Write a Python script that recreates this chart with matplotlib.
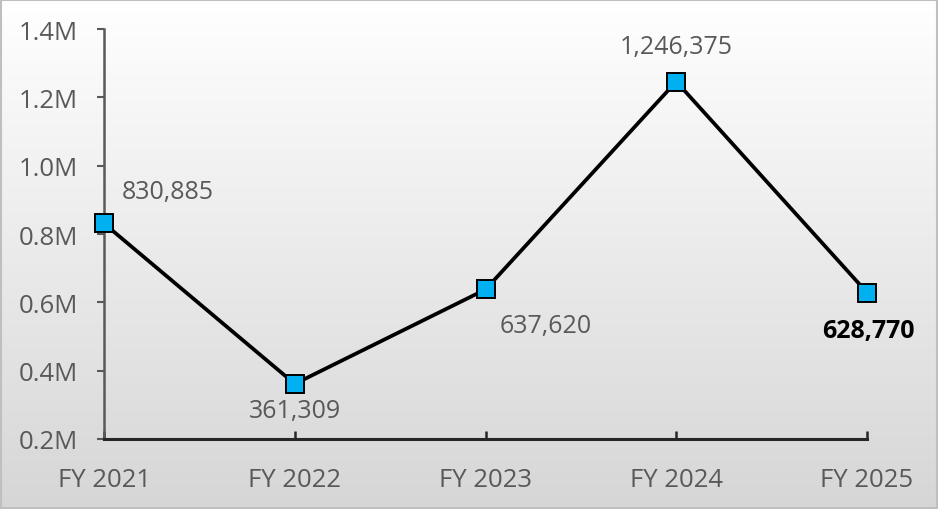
import numpy as np
import matplotlib
matplotlib.use('Agg')
import matplotlib.pyplot as plt

# fiscal year totals
years = ['FY 2021', 'FY 2022', 'FY 2023', 'FY 2024', 'FY 2025']
values = [830885, 361309, 637620, 1246375, 628770]
# label offsets (points) for each data label
label_dx = [46, 0, 43, 0, 1]
label_dy = [23, -19, -26, 25, -27]

plt.rcParams['font.family'] = ['Open Sans', 'DejaVu Sans']

fig = plt.figure(figsize=(9.38, 5.10), dpi=100)

# gradient background for the whole chart area
bg = fig.add_axes([0, 0, 1, 1])
grad = np.linspace(0, 1, 256).reshape(-1, 1)
top = np.array([1.0, 1.0, 1.0])
bot = np.array([0.84, 0.84, 0.84])
img = top + (bot - top) * grad
img = img[:, np.newaxis, :]
bg.imshow(img, aspect='auto', extent=[0, 1, 0, 1], zorder=0)
bg.set_xlim(0, 1)
bg.set_ylim(0, 1)
bg.axis('off')
border = plt.Rectangle((0.001, 0.002), 0.998, 0.996, transform=bg.transAxes,
                       fill=False, edgecolor='#bfbfbf', linewidth=1.5)
bg.add_patch(border)

ax = fig.add_axes([0.1109, 0.1373, 0.8134, 0.8037])
ax.patch.set_alpha(0)

x = np.arange(len(years))
ax.plot(x, values, color='black', linewidth=2.7, marker='s', markersize=13.5,
        markerfacecolor='#00b0f0', markeredgecolor='black', markeredgewidth=1.4,
        clip_on=False, zorder=5)

for i, v in enumerate(values):
    bold = (i == len(values) - 1)
    ax.annotate(f'{v:,}', (x[i], v), xytext=(label_dx[i], label_dy[i]),
                textcoords='offset points', ha='center', va='center',
                fontsize=18, color='black' if bold else '#595959',
                fontweight='bold' if bold else 'normal')

ax.set_xlim(0, len(years) - 1)
ax.set_ylim(200000, 1400000)
ax.set_yticks([200000, 400000, 600000, 800000, 1000000, 1200000, 1400000])
ax.set_yticklabels(['0.2M', '0.4M', '0.6M', '0.8M', '1.0M', '1.2M', '1.4M'])
ax.set_xticks(x)
ax.set_xticklabels(years)

for s in ['top', 'right']:
    ax.spines[s].set_visible(False)
ax.spines['left'].set_color('#595959')
ax.spines['left'].set_linewidth(1.8)
ax.spines['bottom'].set_color('#262626')
ax.spines['bottom'].set_linewidth(2.2)

ax.tick_params(axis='y', direction='out', length=5, width=1.5, color='#595959',
               labelsize=18.5, labelcolor='#595959', pad=14)
ax.tick_params(axis='x', direction='in', length=6, width=1.8, color='#262626',
               labelsize=18.5, labelcolor='#595959', pad=20)

fig.savefig('out.png', dpi=100)
